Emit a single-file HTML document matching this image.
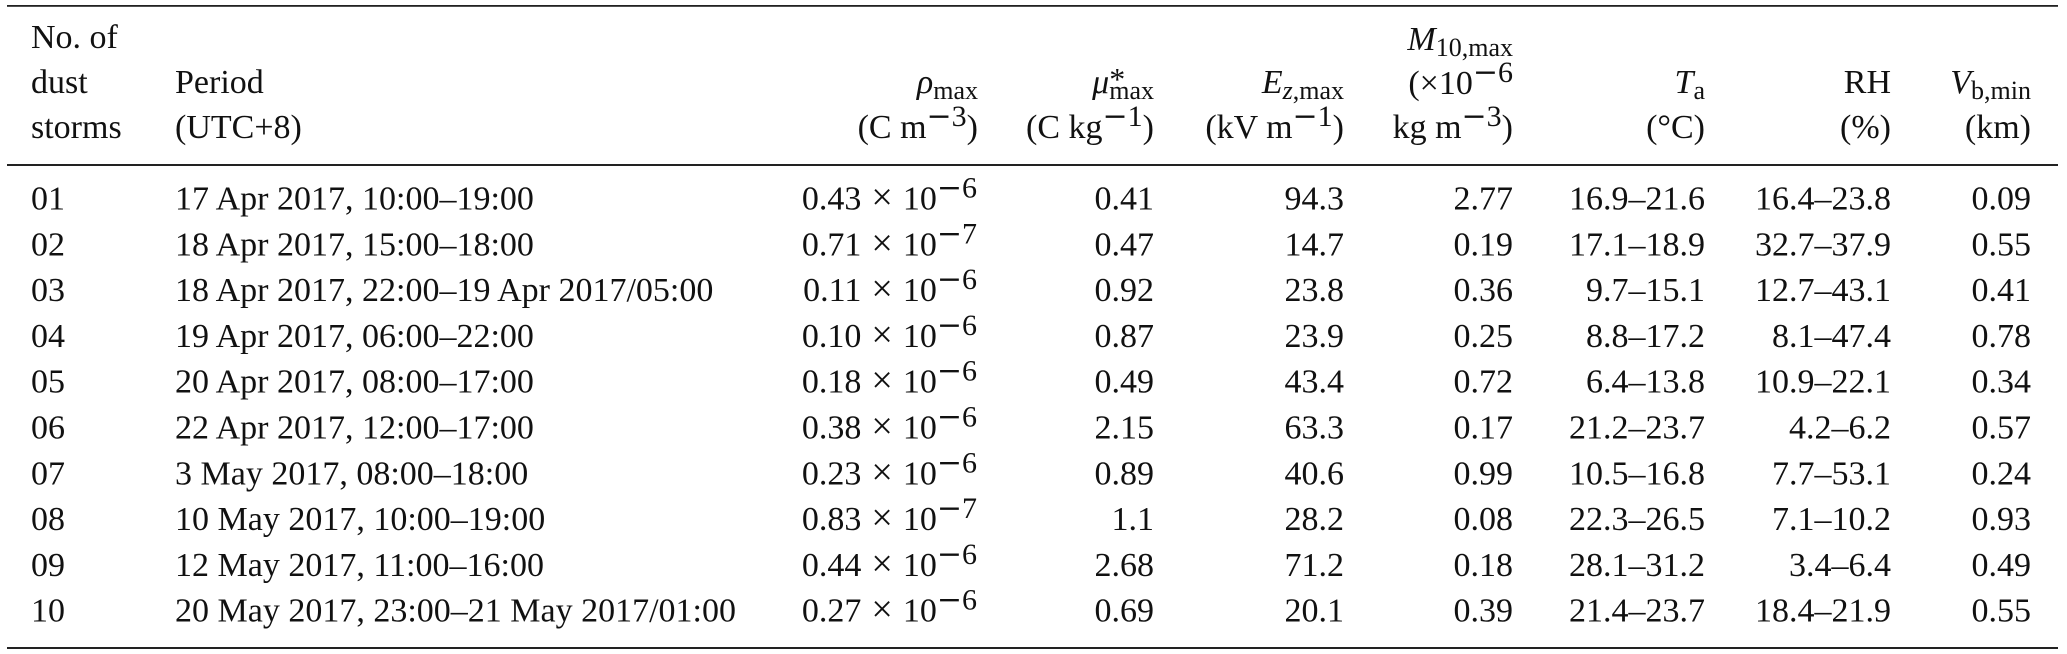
<!DOCTYPE html>
<html>
<head>
<meta charset="utf-8">
<style>
  html, body { margin: 0; padding: 0; background: #ffffff; }
  svg { display: block; }
  text { font-family: "Liberation Serif", "DejaVu Serif", serif; font-size: 34px; fill: #111; }
  .it { font-style: italic; }
  .mn { font-family: "DejaVu Serif", serif; }
</style>
</head>
<body>
<svg width="2067" height="654" viewBox="0 0 2067 654" xmlns="http://www.w3.org/2000/svg">
  <!-- rules -->
  <rect x="7" y="5" width="2051" height="1.8" fill="#222"/>
  <rect x="7" y="164" width="2051" height="2" fill="#222"/>
  <rect x="7" y="647" width="2051" height="2" fill="#222"/>

  <!-- header -->
  <text x="31" y="48">No. of</text>
  <text x="31" y="93">dust</text>
  <text x="31" y="138">storms</text>

  <text x="175" y="93">Period</text>
  <text x="175" y="138">(UTC+8)</text>

  <text x="978" y="93" text-anchor="end"><tspan class="it">ρ</tspan><tspan font-size="26" dy="6">max</tspan></text>
  <text x="978" y="138" text-anchor="end">(C m<tspan font-size="30" dy="-12"><tspan class="mn">−</tspan>3</tspan><tspan dy="12">)</tspan></text>

  <text x="1154" y="93" text-anchor="end"><tspan class="it">μ</tspan><tspan font-size="32" dy="-3">*</tspan><tspan font-size="26" dx="-16" dy="9">max</tspan></text>
  <text x="1154" y="138" text-anchor="end">(C kg<tspan font-size="30" dy="-12"><tspan class="mn">−</tspan>1</tspan><tspan dy="12">)</tspan></text>

  <text x="1344" y="93" text-anchor="end"><tspan class="it">E</tspan><tspan font-size="26" dy="6"><tspan class="it">z</tspan>,max</tspan></text>
  <text x="1344" y="138" text-anchor="end">(kV m<tspan font-size="30" dy="-12"><tspan class="mn">−</tspan>1</tspan><tspan dy="12">)</tspan></text>

  <text x="1513" y="50" text-anchor="end"><tspan class="it">M</tspan><tspan font-size="26" dy="6">10,max</tspan></text>
  <text x="1513" y="94" text-anchor="end">(×10<tspan font-size="30" dy="-12"><tspan class="mn">−</tspan>6</tspan></text>
  <text x="1513" y="138" text-anchor="end">kg m<tspan font-size="30" dy="-12"><tspan class="mn">−</tspan>3</tspan><tspan dy="12">)</tspan></text>

  <text x="1705" y="93" text-anchor="end"><tspan class="it">T</tspan><tspan font-size="26" dy="6">a</tspan></text>
  <text x="1705" y="138" text-anchor="end">(°C)</text>

  <text x="1891" y="93" text-anchor="end">RH</text>
  <text x="1891" y="138" text-anchor="end">(%)</text>

  <text x="2031" y="93" text-anchor="end"><tspan class="it">V</tspan><tspan font-size="26" dy="6">b,min</tspan></text>
  <text x="2031" y="138" text-anchor="end">(km)</text>

  <!-- rows -->
  <!-- row 01 -->
  <text x="31" y="209.5">01</text>
  <text x="175" y="209.5">17 Apr 2017, 10:00–19:00</text>
  <text x="977" y="209.5" text-anchor="end">0.43<tspan font-size="38" dx="10">×</tspan><tspan dx="10">10</tspan><tspan font-size="30" dy="-12"><tspan class="mn">−</tspan>6</tspan></text>
  <text x="1154" y="209.5" text-anchor="end">0.41</text>
  <text x="1344" y="209.5" text-anchor="end">94.3</text>
  <text x="1513" y="209.5" text-anchor="end">2.77</text>
  <text x="1705" y="209.5" text-anchor="end">16.9–21.6</text>
  <text x="1891" y="209.5" text-anchor="end">16.4–23.8</text>
  <text x="2031" y="209.5" text-anchor="end">0.09</text>

  <!-- row 02 -->
  <text x="31" y="255.3">02</text>
  <text x="175" y="255.3">18 Apr 2017, 15:00–18:00</text>
  <text x="977" y="255.3" text-anchor="end">0.71<tspan font-size="38" dx="10">×</tspan><tspan dx="10">10</tspan><tspan font-size="30" dy="-12"><tspan class="mn">−</tspan>7</tspan></text>
  <text x="1154" y="255.3" text-anchor="end">0.47</text>
  <text x="1344" y="255.3" text-anchor="end">14.7</text>
  <text x="1513" y="255.3" text-anchor="end">0.19</text>
  <text x="1705" y="255.3" text-anchor="end">17.1–18.9</text>
  <text x="1891" y="255.3" text-anchor="end">32.7–37.9</text>
  <text x="2031" y="255.3" text-anchor="end">0.55</text>

  <!-- row 03 -->
  <text x="31" y="301.1">03</text>
  <text x="175" y="301.1">18 Apr 2017, 22:00–19 Apr 2017/05:00</text>
  <text x="977" y="301.1" text-anchor="end">0.11<tspan font-size="38" dx="10">×</tspan><tspan dx="10">10</tspan><tspan font-size="30" dy="-12"><tspan class="mn">−</tspan>6</tspan></text>
  <text x="1154" y="301.1" text-anchor="end">0.92</text>
  <text x="1344" y="301.1" text-anchor="end">23.8</text>
  <text x="1513" y="301.1" text-anchor="end">0.36</text>
  <text x="1705" y="301.1" text-anchor="end">9.7–15.1</text>
  <text x="1891" y="301.1" text-anchor="end">12.7–43.1</text>
  <text x="2031" y="301.1" text-anchor="end">0.41</text>

  <!-- row 04 -->
  <text x="31" y="346.9">04</text>
  <text x="175" y="346.9">19 Apr 2017, 06:00–22:00</text>
  <text x="977" y="346.9" text-anchor="end">0.10<tspan font-size="38" dx="10">×</tspan><tspan dx="10">10</tspan><tspan font-size="30" dy="-12"><tspan class="mn">−</tspan>6</tspan></text>
  <text x="1154" y="346.9" text-anchor="end">0.87</text>
  <text x="1344" y="346.9" text-anchor="end">23.9</text>
  <text x="1513" y="346.9" text-anchor="end">0.25</text>
  <text x="1705" y="346.9" text-anchor="end">8.8–17.2</text>
  <text x="1891" y="346.9" text-anchor="end">8.1–47.4</text>
  <text x="2031" y="346.9" text-anchor="end">0.78</text>

  <!-- row 05 -->
  <text x="31" y="392.7">05</text>
  <text x="175" y="392.7">20 Apr 2017, 08:00–17:00</text>
  <text x="977" y="392.7" text-anchor="end">0.18<tspan font-size="38" dx="10">×</tspan><tspan dx="10">10</tspan><tspan font-size="30" dy="-12"><tspan class="mn">−</tspan>6</tspan></text>
  <text x="1154" y="392.7" text-anchor="end">0.49</text>
  <text x="1344" y="392.7" text-anchor="end">43.4</text>
  <text x="1513" y="392.7" text-anchor="end">0.72</text>
  <text x="1705" y="392.7" text-anchor="end">6.4–13.8</text>
  <text x="1891" y="392.7" text-anchor="end">10.9–22.1</text>
  <text x="2031" y="392.7" text-anchor="end">0.34</text>

  <!-- row 06 -->
  <text x="31" y="438.5">06</text>
  <text x="175" y="438.5">22 Apr 2017, 12:00–17:00</text>
  <text x="977" y="438.5" text-anchor="end">0.38<tspan font-size="38" dx="10">×</tspan><tspan dx="10">10</tspan><tspan font-size="30" dy="-12"><tspan class="mn">−</tspan>6</tspan></text>
  <text x="1154" y="438.5" text-anchor="end">2.15</text>
  <text x="1344" y="438.5" text-anchor="end">63.3</text>
  <text x="1513" y="438.5" text-anchor="end">0.17</text>
  <text x="1705" y="438.5" text-anchor="end">21.2–23.7</text>
  <text x="1891" y="438.5" text-anchor="end">4.2–6.2</text>
  <text x="2031" y="438.5" text-anchor="end">0.57</text>

  <!-- row 07 -->
  <text x="31" y="484.3">07</text>
  <text x="175" y="484.3">3 May 2017, 08:00–18:00</text>
  <text x="977" y="484.3" text-anchor="end">0.23<tspan font-size="38" dx="10">×</tspan><tspan dx="10">10</tspan><tspan font-size="30" dy="-12"><tspan class="mn">−</tspan>6</tspan></text>
  <text x="1154" y="484.3" text-anchor="end">0.89</text>
  <text x="1344" y="484.3" text-anchor="end">40.6</text>
  <text x="1513" y="484.3" text-anchor="end">0.99</text>
  <text x="1705" y="484.3" text-anchor="end">10.5–16.8</text>
  <text x="1891" y="484.3" text-anchor="end">7.7–53.1</text>
  <text x="2031" y="484.3" text-anchor="end">0.24</text>

  <!-- row 08 -->
  <text x="31" y="530.1">08</text>
  <text x="175" y="530.1">10 May 2017, 10:00–19:00</text>
  <text x="977" y="530.1" text-anchor="end">0.83<tspan font-size="38" dx="10">×</tspan><tspan dx="10">10</tspan><tspan font-size="30" dy="-12"><tspan class="mn">−</tspan>7</tspan></text>
  <text x="1154" y="530.1" text-anchor="end">1.1</text>
  <text x="1344" y="530.1" text-anchor="end">28.2</text>
  <text x="1513" y="530.1" text-anchor="end">0.08</text>
  <text x="1705" y="530.1" text-anchor="end">22.3–26.5</text>
  <text x="1891" y="530.1" text-anchor="end">7.1–10.2</text>
  <text x="2031" y="530.1" text-anchor="end">0.93</text>

  <!-- row 09 -->
  <text x="31" y="575.9">09</text>
  <text x="175" y="575.9">12 May 2017, 11:00–16:00</text>
  <text x="977" y="575.9" text-anchor="end">0.44<tspan font-size="38" dx="10">×</tspan><tspan dx="10">10</tspan><tspan font-size="30" dy="-12"><tspan class="mn">−</tspan>6</tspan></text>
  <text x="1154" y="575.9" text-anchor="end">2.68</text>
  <text x="1344" y="575.9" text-anchor="end">71.2</text>
  <text x="1513" y="575.9" text-anchor="end">0.18</text>
  <text x="1705" y="575.9" text-anchor="end">28.1–31.2</text>
  <text x="1891" y="575.9" text-anchor="end">3.4–6.4</text>
  <text x="2031" y="575.9" text-anchor="end">0.49</text>

  <!-- row 10 -->
  <text x="31" y="621.7">10</text>
  <text x="175" y="621.7">20 May 2017, 23:00–21 May 2017/01:00</text>
  <text x="977" y="621.7" text-anchor="end">0.27<tspan font-size="38" dx="10">×</tspan><tspan dx="10">10</tspan><tspan font-size="30" dy="-12"><tspan class="mn">−</tspan>6</tspan></text>
  <text x="1154" y="621.7" text-anchor="end">0.69</text>
  <text x="1344" y="621.7" text-anchor="end">20.1</text>
  <text x="1513" y="621.7" text-anchor="end">0.39</text>
  <text x="1705" y="621.7" text-anchor="end">21.4–23.7</text>
  <text x="1891" y="621.7" text-anchor="end">18.4–21.9</text>
  <text x="2031" y="621.7" text-anchor="end">0.55</text>
</svg>
</body>
</html>
